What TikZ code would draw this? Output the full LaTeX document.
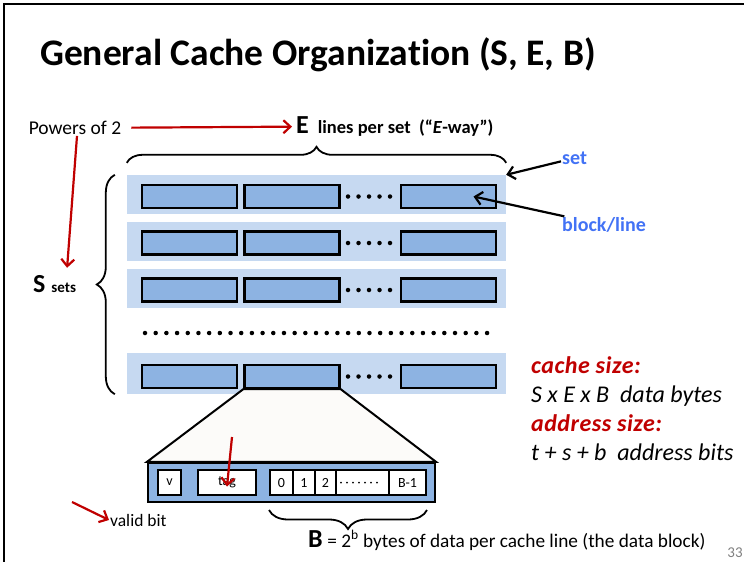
\documentclass[tikz,border=0pt]{standalone}
\usepackage{fontspec}
\setmainfont{Carlito}[Ligatures=NoCommon]
\usepackage{xcolor}
\usetikzlibrary{arrows.meta, decorations.pathreplacing, backgrounds}
\definecolor{setbg}{RGB}{198,217,241}
\definecolor{lineblue}{RGB}{141,179,226}
\definecolor{zoomfill}{RGB}{252,251,249}
\definecolor{slidered}{RGB}{192,0,0}
\definecolor{labelblue}{RGB}{66,114,245}
\tikzstyle{redarrow} = [->, >={Straight Barb[length=7pt,width=13pt]}, line width=2.2pt, draw=slidered]
\tikzstyle{blackarrow} = [->, >={Straight Barb[length=7pt,width=13pt]}, line width=2.2pt]
\tikzstyle{setrow} = [rectangle, fill=setbg, minimum width=379pt, minimum height=39pt, inner sep=0pt]
\tikzstyle{block} = [rectangle, draw=black, line width=2.2pt, fill=lineblue, minimum width=95pt, minimum height=23pt, inner sep=0pt]
\tikzstyle{cell} = [rectangle, draw=black, line width=2pt, fill=white, minimum height=25pt, inner sep=0pt, font=\fontsize{14}{14}\selectfont]
\tikzstyle{bigdots} = [line width=4.5pt, line cap=round, dash pattern=on 0pt off 10.5pt]
\tikzstyle{tinydots} = [line width=2pt, line cap=round, dash pattern=on 0pt off 6pt]
\tikzstyle{brace} = [decorate, decoration={brace, amplitude=16pt}, line width=1.8pt]
\tikzstyle{label} = [inner sep=1pt]
\newcommand*{\hugeletter}{\fontsize{26}{26}\selectfont\bfseries}
\newcommand*{\sizefont}{\fontsize{24}{24}\selectfont\itshape}

\begin{document}
\begin{tikzpicture}[x=1pt, y=-1pt]
  \useasboundingbox (0,0) rectangle (744,562);
  \draw[line width=1.5pt] (4,562) -- (4,4) -- (744,4);

  % Title
  \node[label, anchor=west, font=\fontsize{37.5}{37.5}\selectfont\bfseries] (title) at (39,55) {General Cache Organization (S, E, B)};

  % Sets
  \begin{scope}[on background layer]
    \node[setrow] (set1) at (316.5,194.5) {};
    \node[setrow] (set2) at (316.5,241) {};
    \node[setrow] (set3) at (316.5,288.5) {};
    \node[setrow, minimum height=41pt] (set4) at (316.5,373.5) {};
  \end{scope}

  % Lines of each set
  \node[block] (b11) at (189.5,196.5) {};
  \node[block] (b12) at (292,196.5) {};
  \node[block] (b13) at (448.5,196.5) {};
  \draw[bigdots, shorten <=7.4pt, shorten >=9.4pt] (b12) -- (b13);

  \node[block] (b21) at (189.5,243) {};
  \node[block] (b22) at (292,243) {};
  \node[block] (b23) at (448.5,243) {};
  \draw[bigdots, shorten <=7.4pt, shorten >=9.4pt] (b22) -- (b23);

  \node[block] (b31) at (189.5,290) {};
  \node[block] (b32) at (292,290) {};
  \node[block] (b33) at (448.5,290) {};
  \draw[bigdots, shorten <=7.4pt, shorten >=9.4pt] (b32) -- (b33);

  \coordinate (dotsl) at (145,333);
  \coordinate (dotsr) at (488,333);
  \draw[bigdots, dash pattern=on 0pt off 10.69pt] (dotsl) -- (dotsr);

  \node[block] (b41) at (189.5,376.5) {};
  \node[block] (b42) at (292,376.5) {};
  \node[block] (b43) at (448.5,376.5) {};
  \draw[bigdots, shorten <=7.4pt, shorten >=9.4pt] (b42) -- (b43);

  % Braces
  \draw[brace] ([yshift=12pt]set1.north west) -- ([yshift=12pt]set1.north east);
  \draw[brace, decoration={amplitude=18pt}] ([xshift=-12pt]set4.south west) -- ([xshift=-12pt]set1.north west);

  % Labels round the sets
  \node[label, font=\fontsize{19.5}{19.5}\selectfont] (powers) at (75,128) {Powers of 2};
  \node[label, anchor=base west] (elabel) at (295,133) {{\hugeletter E}\hspace{9pt}{\fontsize{18.5}{18.5}\selectfont\bfseries lines per set\ \ (“\textit{E}-way”)}};
  \node[label, anchor=base west] (slabel) at (32,292) {{\hugeletter S}\hspace{6pt}{\fontsize{15}{15}\selectfont\bfseries sets}};
  \node[label, anchor=west, font=\fontsize{20}{20}\selectfont\bfseries, text=labelblue] (setlbl) at (561,158) {set};
  \node[label, anchor=west, font=\fontsize{20}{20}\selectfont\bfseries, text=labelblue] (blocklbl) at (561,225) {block/line};

  \draw[redarrow, shorten <=9pt, shorten >=3pt] (powers) -- (elabel);
  \draw[redarrow, shorten >=6pt] ([xshift=2pt]powers.south) -- ([xshift=12pt]slabel.north);
  \draw[blackarrow] (setlbl) -- (set1.north east);
  \draw[blackarrow] (blocklbl) -- ([xshift=25pt]b13.center);

  % Zoomed cache line
  \node[rectangle, draw=black, line width=2.2pt, fill=lineblue, minimum width=287pt, minimum height=39pt] (linebox) at (291.5,482.5) {};
  \begin{scope}[on background layer]
    \draw[line width=2pt, fill=zoomfill] (b42.south west) -- (b42.south east) -- (linebox.north east) -- (linebox.north west) -- cycle;
  \end{scope}

  \node[cell, minimum width=23pt] (valid) at (169.5,482.5) {v};
  \node[cell, minimum width=58pt] (tag) at (227,482.5) {tag};
  \node[cell, minimum width=23pt] (byte0) at (281.5,482.5) {0};
  \node[cell, minimum width=22pt] (byte1) at (304,482.5) {1};
  \node[cell, minimum width=21pt] (byte2) at (325.5,482.5) {2};
  \node[cell, minimum width=53pt] (bytedots) at (362.5,482.5) {};
  \node[cell, minimum width=37pt] (bytelast) at (407.5,482.5) {B-1};
  \draw[tinydots, shorten <=6pt, shorten >=10.5pt] (bytedots.west) -- (bytedots.east);

  \coordinate (tagsrc) at (232,437);
  \draw[redarrow] (tagsrc) -- ([yshift=-4pt]tag.center);

  \coordinate (validsrc) at (72,502);
  \node[label, anchor=west, font=\fontsize{17.5}{17.5}\selectfont] (validbit) at (109,520) {valid bit};
  \draw[redarrow] (validsrc) -- (validbit.west);

  \draw[brace, decoration={amplitude=19pt}] ([yshift=-14pt]bytelast.south east) -- ([yshift=-14pt]byte0.south west);
  \node[label, anchor=base west] (blabel) at (307,547) {{\hugeletter B}\ \ {\fontsize{19.3}{19.3}\selectfont = 2\textsuperscript{b} bytes of data per cache line (the data block)}};

  % Sizes
  \node[label, anchor=base west, font=\sizefont\bfseries\addfontfeature{LetterSpace=2}, text=slidered] (cachesize) at (530,373) {cache size:};
  \node[label, anchor=base west, font=\sizefont] (cachebytes) at (530,402) {S x E x B\ \ data bytes};
  \node[label, anchor=base west, font=\sizefont\bfseries\addfontfeature{LetterSpace=2}, text=slidered] (addrsize) at (530,431) {address size:};
  \node[label, anchor=base west, font=\sizefont] (addrbits) at (530,460) {t + s + b\ \ address bits};

  \node[label, text=gray, font=\fontsize{15}{15}\selectfont] (pagenum) at (735,553) {33};
\end{tikzpicture}
\end{document}
